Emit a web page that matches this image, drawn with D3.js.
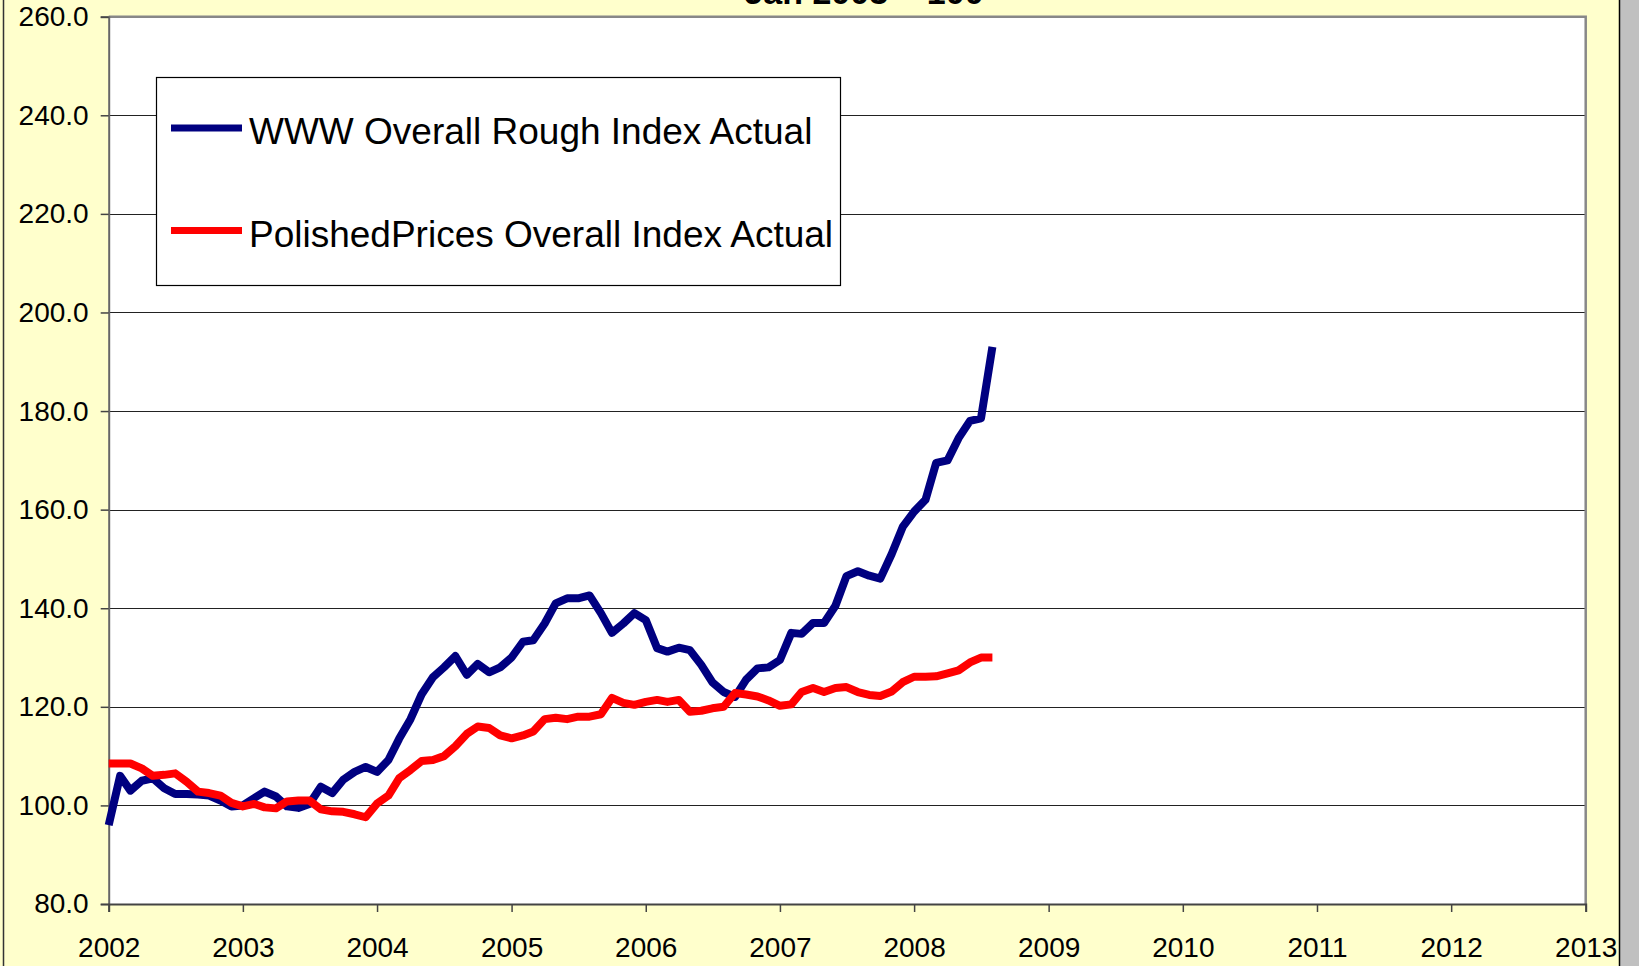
<!DOCTYPE html>
<html>
<head>
<meta charset="utf-8">
<script src="https://cdn.jsdelivr.net/npm/d3@7"></script>
<style>
  body { margin: 0; background: #FFFFCC; }
  svg { display: block; font-family: Arial, "Liberation Sans", sans-serif; }
</style>
</head>
<body>
<svg id="chart" width="1639" height="966"></svg>
<script>
// monthly readings, Jan 2002 .. Aug 2008 (Jan 2003 = 100)
var months = d3.timeMonth.range(new Date(2002, 0, 1), new Date(2008, 8, 1));

var roughIndex = [
  96, 106, 103, 105, 105.5, 103.5, 102.3, 102.3, 102.2, 102, 101, 99.8,
  100, 101.5, 102.8, 101.8, 99.8, 99.5, 100.3, 103.8, 102.5, 105.2, 106.8, 107.8,
  106.8, 109.2, 113.5, 117.5, 122.5, 126, 128, 130.3, 126.5, 128.7, 127, 128,
  130, 133.2, 133.5, 136.9, 141, 142, 142, 142.6, 139, 135, 136.9, 139,
  137.6, 131.9, 131.2, 132, 131.5, 128.5, 125, 123, 122, 125.5, 127.8, 128,
  129.5, 135, 134.8, 137, 137, 140.5, 146.5, 147.5, 146.6, 146, 151, 156.5,
  159.6, 162, 169.5, 170, 174.5, 178, 178.5, 193
];

var polishedIndex = [
  108.5, 108.5, 108.5, 107.5, 106, 106.2, 106.5, 104.8, 102.8, 102.5, 102, 100.5,
  99.8, 100.3, 99.6, 99.4, 100.8, 101, 101, 99.2, 98.8, 98.7, 98.2, 97.6,
  100.4, 102, 105.5, 107.2, 109, 109.2, 110, 112, 114.5, 116, 115.7, 114.2,
  113.6, 114.2, 115, 117.5, 117.8, 117.5, 118, 118, 118.5, 121.8, 120.8, 120.4,
  121, 121.4, 121, 121.4, 119, 119.2, 119.7, 120, 122.8, 122.5, 122.1, 121.3,
  120.2, 120.5, 123, 123.8, 123, 123.8, 124, 123, 122.4, 122.2, 123.1, 125,
  126.1, 126.1, 126.2, 126.8, 127.4, 129, 130, 130
];

var seriesNames = ["WWW Overall Rough Index Actual", "PolishedPrices Overall Index Actual"];
var seriesColors = ["#000080", "#FF0000"];
var yTicks = [80, 100, 120, 140, 160, 180, 200, 220, 240, 260];
var xYears = d3.range(2002, 2014);

var svg = d3.select("#chart");

// frame
svg.append("rect").attr("x", 0).attr("y", 0).attr("width", 1639).attr("height", 966).attr("fill", "#FFFFCC");
svg.append("rect").attr("x", 1620).attr("y", 0).attr("width", 19).attr("height", 966).attr("fill", "#C0C0C0");
svg.append("line").attr("x1", 1619.5).attr("x2", 1619.5).attr("y1", 0).attr("y2", 966).attr("stroke", "#000").attr("stroke-width", 1.5);
svg.append("line").attr("x1", 3.5).attr("x2", 3.5).attr("y1", 0).attr("y2", 966).attr("stroke", "#333").attr("stroke-width", 1.5);

// title, mostly cut off at the top (as in the source)
svg.append("text")
  .attr("x", 864).attr("y", 4)
  .attr("text-anchor", "middle")
  .style("font-size", "34px").style("font-weight", "bold")
  .text("Jan 2003 = 100");

var x = d3.scaleTime()
  .domain([new Date(2002, 0, 1), new Date(2013, 0, 1)])
  .range([108.7, 1585.7]);

var y = d3.scaleLinear()
  .domain([80, 260])
  .range([904, 16.7]);

// plot area
svg.append("rect")
  .attr("x", x.range()[0]).attr("y", y(260))
  .attr("width", x.range()[1] - x.range()[0]).attr("height", y(80) - y(260))
  .attr("fill", "#fff");

// grid
svg.append("g").selectAll("line")
  .data(yTicks.filter(function(d) { return d > 80 && d < 260; }))
  .enter().append("line")
  .attr("x1", x.range()[0]).attr("x2", x.range()[1])
  .attr("y1", function(d) { return Math.round(y(d)) + 0.5; })
  .attr("y2", function(d) { return Math.round(y(d)) + 0.5; })
  .attr("stroke", "#222").attr("stroke-width", 1.2);

// border top / right
svg.append("path")
  .attr("d", "M" + x.range()[0] + "," + y(260) + "H" + x.range()[1] + "V" + y(80))
  .attr("fill", "none").attr("stroke", "#888").attr("stroke-width", 2.5);

// axes
var yAxis = d3.axisLeft(y).tickValues(yTicks).tickSize(8).tickPadding(12).tickFormat(d3.format(".1f"));
var gy = svg.append("g").attr("transform", "translate(" + x.range()[0] + ",0)").call(yAxis);
gy.select(".domain").attr("stroke", "#666").attr("stroke-width", 2);
gy.selectAll(".tick line").attr("stroke", "#444").attr("stroke-width", 1.5);
gy.selectAll("text").style("font-size", "28px").attr("fill", "#000")
  .attr("font-family", "Arial, 'Liberation Sans', sans-serif");

var xAxis = d3.axisBottom(x)
  .tickValues(xYears.map(function(d) { return new Date(d, 0, 1); }))
  .tickSize(8).tickPadding(25)
  .tickFormat(d3.timeFormat("%Y"));
var gx = svg.append("g").attr("transform", "translate(0," + y(80) + ")").call(xAxis);
gx.select(".domain").attr("stroke", "#444").attr("stroke-width", 2);
gx.selectAll(".tick line").attr("stroke", "#444").attr("stroke-width", 1.5);
gx.selectAll("text").style("font-size", "28px").attr("fill", "#000")
  .attr("font-family", "Arial, 'Liberation Sans', sans-serif");

// lines
var line = d3.line()
  .x(function(d) { return x(d[0]); })
  .y(function(d) { return y(d[1]); });

[roughIndex, polishedIndex].forEach(function(vals, i) {
  svg.append("path")
    .datum(months.map(function(m, j) { return [m, vals[j]]; }))
    .attr("d", line)
    .attr("fill", "none")
    .attr("stroke", seriesColors[i])
    .attr("stroke-width", 8)
    .attr("stroke-linejoin", "round");
});

// legend
var legend = svg.append("g");
legend.append("rect")
  .attr("x", 156.5).attr("y", 77.5).attr("width", 684).attr("height", 208)
  .attr("fill", "#fff").attr("stroke", "#000").attr("stroke-width", 1.2);

var items = legend.selectAll("g.item")
  .data(seriesNames)
  .enter().append("g")
  .attr("transform", function(d, i) { return "translate(0," + (128 + i * 102.5) + ")"; });

items.append("line")
  .attr("x1", 171).attr("x2", 242)
  .attr("stroke", function(d, i) { return seriesColors[i]; })
  .attr("stroke-width", 7);

items.append("text")
  .attr("x", 249).attr("y", 16)
  .style("font-size", "37px")
  .text(function(d) { return d; });
</script>
</body>
</html>
